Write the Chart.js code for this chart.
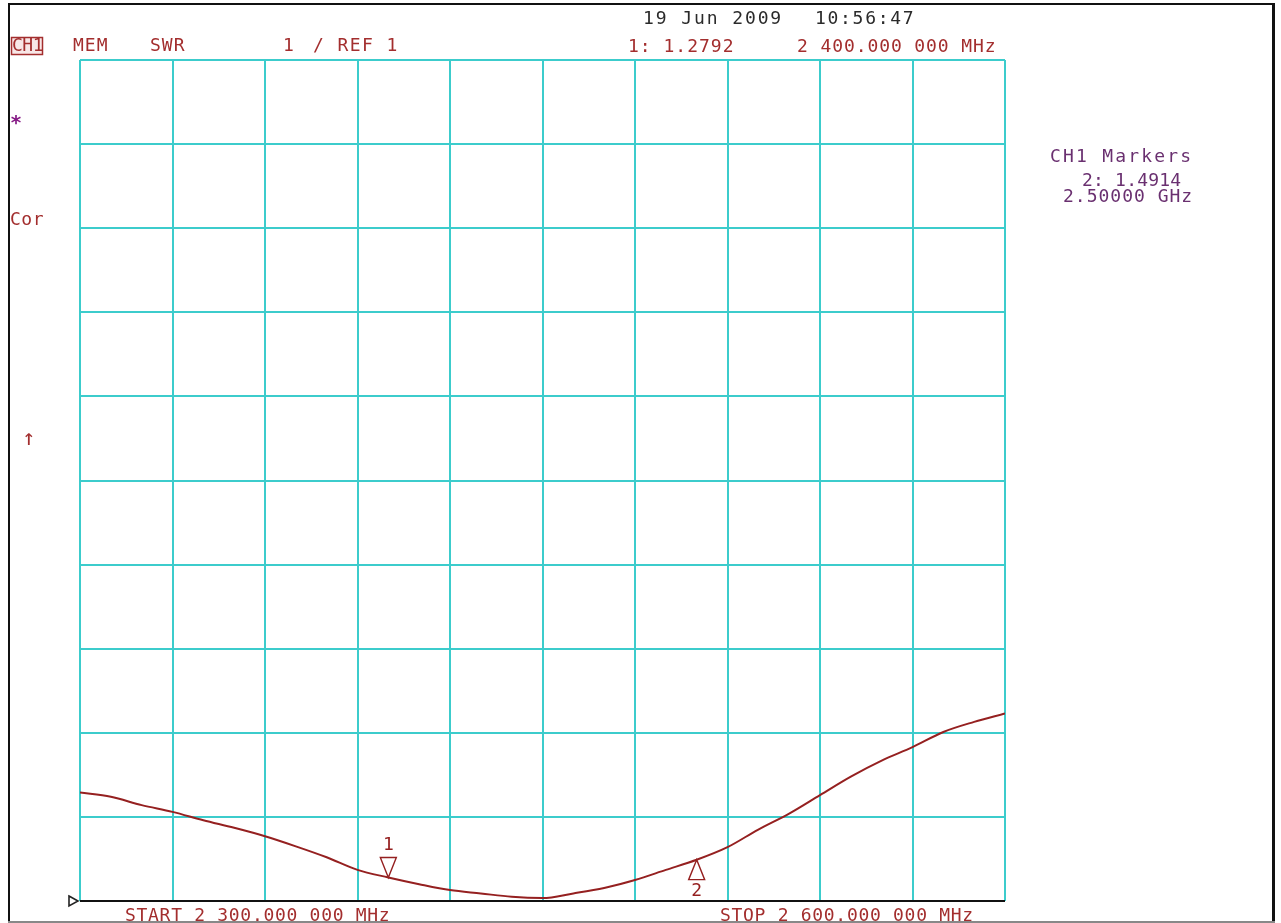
<!DOCTYPE html>
<html>
<head>
<meta charset="utf-8">
<script src="https://cdn.jsdelivr.net/npm/chart.js@4.4.0/dist/chart.umd.min.js"></script>
<style>
  html, body { margin: 0; padding: 0; background: #fff; }
  #wrap { position: relative; width: 1281px; height: 923px; }
</style>
</head>
<body>
<div id="wrap"><canvas id="swr" width="1281" height="923"></canvas></div>
<script>
// sweep 2300 - 2600 MHz, SWR
var freqs = [2300, 2310, 2320, 2330, 2340, 2350, 2360, 2370, 2380, 2390,
             2400, 2410, 2420, 2430, 2440, 2450, 2460, 2470, 2480, 2490,
             2500, 2510, 2520, 2530, 2540, 2550, 2560, 2570, 2580, 2590, 2600];
var swrValues = [2.29, 2.24, 2.14, 2.06, 1.96, 1.87, 1.77, 1.65, 1.52, 1.37,
                 1.28, 1.20, 1.13, 1.09, 1.05, 1.035, 1.09, 1.155, 1.25, 1.37,
                 1.49, 1.64, 1.85, 2.04, 2.26, 2.48, 2.67, 2.83, 3.01, 3.13, 3.23];

var markerNames = ['1', '2'];
var markerFreqs = [2400, 2500];
var markerValues = [1.2792, 1.4914];

var startLabel = 'START 2 300.000 000 MHz';
var stopLabel = 'STOP 2 600.000 000 MHz';
var headerLeft = ['MEM', 'SWR', '1', '/ REF 1'];
var dateText = ['19 Jun 2009', '10:56:47'];
var activeMarker = ['1: 1.2792', '2 400.000 000 MHz'];
var markerList = ['CH1 Markers', '2: 1.4914', '2.50000 GHz'];

var RED = '#a32e2e';
var TRACE = '#952020';
var PURPLE = '#6a3070';
var CYAN = '#3ccccc';

function txt(ctx, s, x, y, color, spacing) {
    ctx.fillStyle = color;
    ctx.letterSpacing = (spacing === undefined ? 1 : spacing) + 'px';
    ctx.fillText(s, x, y);
}

var analyzerPlugin = {
    id: 'analyzer',
    afterDraw: function(chart) {
        var ctx = chart.ctx;
        var xs = chart.scales.x;
        var ys = chart.scales.y;
        ctx.save();
        ctx.font = '18px "DejaVu Sans Mono"';
        ctx.textBaseline = 'middle';
        ctx.textAlign = 'left';

        // header line
        ctx.strokeStyle = RED;
        ctx.lineWidth = 1.5;
        ctx.strokeRect(11.5, 37.5, 31, 17);
        ctx.fillStyle = 'rgba(200,60,60,0.12)';
        ctx.fillRect(12, 38, 30, 16);
        txt(ctx, 'CH1', 12, 46, RED, -0.5);
        txt(ctx, headerLeft[0], 73, 46, RED);
        txt(ctx, headerLeft[1], 150, 46, RED);
        txt(ctx, headerLeft[2], 283, 46, RED);
        txt(ctx, headerLeft[3], 313, 46, RED, 1.4);

        txt(ctx, dateText[0], 643, 19, '#2a2a2a', 1.9);
        txt(ctx, dateText[1], 815, 19, '#2a2a2a', 1.7);
        txt(ctx, activeMarker[0], 628, 47, RED, 1);
        txt(ctx, activeMarker[1], 797, 47, RED, 0.9);

        // right marker table
        txt(ctx, markerList[0], 1050, 157, PURPLE, 2.2);
        txt(ctx, markerList[1], 1082, 181, PURPLE, 0.2);
        txt(ctx, markerList[2], 1063, 197, PURPLE, 1);

        // left side annotations
        ctx.font = 'bold 20px "DejaVu Sans Mono"';
        txt(ctx, '*', 10, 124, '#861a86', 0);
        ctx.font = '18px "DejaVu Sans Mono"';
        txt(ctx, 'Cor', 10, 220, RED, 0.5);
        ctx.font = '22px "DejaVu Sans Mono"';
        txt(ctx, '\u2191', 22, 439, RED, 0);
        ctx.font = '18px "DejaVu Sans Mono"';

        // markers on the trace
        ctx.strokeStyle = TRACE;
        ctx.lineWidth = 1.4;
        ctx.textAlign = 'center';
        for (var i = 0; i < markerFreqs.length; i++) {
            var px = xs.getPixelForValue(markerFreqs[i]);
            var py = ys.getPixelForValue(markerValues[i]);
            var dir = i === 0 ? -1 : 1;
            ctx.beginPath();
            ctx.moveTo(px, py);
            ctx.lineTo(px - 8, py + dir * 20);
            ctx.lineTo(px + 8, py + dir * 20);
            ctx.closePath();
            ctx.stroke();
            txt(ctx, markerNames[i], px, py + dir * 32, TRACE, 0);
        }

        // reference arrow on the left
        var ry = ys.getPixelForValue(1);
        var rx = xs.left;
        ctx.strokeStyle = '#222';
        ctx.lineWidth = 1.6;
        ctx.beginPath();
        ctx.moveTo(rx - 11, ry - 5);
        ctx.lineTo(rx - 2, ry);
        ctx.lineTo(rx - 11, ry + 5);
        ctx.closePath();
        ctx.stroke();

        // start / stop
        ctx.textAlign = 'left';
        txt(ctx, startLabel, 125, 916, RED, 0.7);
        txt(ctx, stopLabel, 720, 916, RED, 0.7);

        // outer frame
        ctx.fillStyle = '#111';
        ctx.fillRect(8, 3, 2, 919);
        ctx.fillRect(8, 3, 1267, 2);
        ctx.fillRect(1272, 3, 3, 919);
        ctx.fillStyle = '#888';
        ctx.fillRect(8, 921, 1267, 2);
        ctx.restore();
    }
};

var ctx = document.getElementById('swr').getContext('2d');
var chart = new Chart(ctx, {
    type: 'line',
    data: {
        datasets: [{
            label: 'SWR',
            data: freqs.map(function(f, i) { return { x: f, y: swrValues[i] }; }),
            borderColor: TRACE,
            borderWidth: 2,
            pointRadius: 0,
            fill: false,
            cubicInterpolationMode: 'monotone'
        }]
    },
    options: {
        responsive: false,
        animation: false,
        devicePixelRatio: 1,
        layout: { padding: { left: 80, right: 276, top: 60, bottom: 22 } },
        plugins: {
            legend: { display: false },
            tooltip: { enabled: false },
            title: { display: false }
        },
        scales: {
            x: {
                type: 'linear',
                min: 2300,
                max: 2600,
                ticks: { display: false, stepSize: 30 },
                grid: { color: CYAN, lineWidth: 2, drawTicks: false },
                border: { display: false }
            },
            y: {
                min: 1,
                max: 11,
                ticks: { display: false, stepSize: 1 },
                grid: {
                    color: function(c) { return c.tick && c.tick.value === 1 ? '#111' : CYAN; },
                    lineWidth: 2,
                    drawTicks: false
                },
                border: { display: false }
            }
        }
    },
    plugins: [analyzerPlugin]
});
</script>
</body>
</html>
